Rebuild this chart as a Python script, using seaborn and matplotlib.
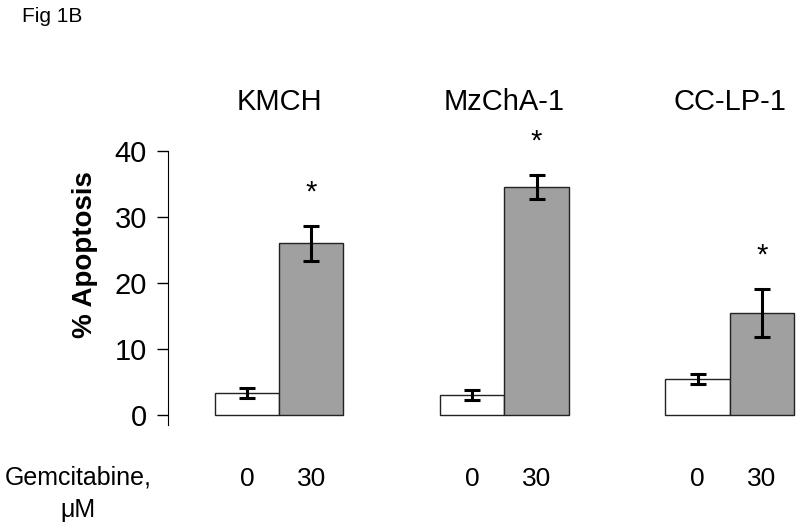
import pandas as pd
import seaborn as sns
import matplotlib.pyplot as plt

# =============================
# Data
# =============================
cell_lines = ["KMCH", "MzChA-1", "CC-LP-1"]
doses = ["0", "30"]
apoptosis_0 = [3.4, 3.0, 5.45]
apoptosis_30 = [26.0, 34.5, 15.5]
sem_0 = [0.75, 0.75, 0.72]
sem_30 = [2.6, 1.8, 3.6]
significant = [True, True, True]

# bar centres along a numeric axis (groups 3.5 bar widths apart)
group_centres = [0.0, 3.5, 7.0]

rows = []
for i, line in enumerate(cell_lines):
    rows.append({"pos": group_centres[i] - 0.5, "dose": "0", "line": line,
                 "value": apoptosis_0[i], "err": sem_0[i]})
    rows.append({"pos": group_centres[i] + 0.5, "dose": "30", "line": line,
                 "value": apoptosis_30[i], "err": sem_30[i]})
df = pd.DataFrame(rows)

# =============================
# Plot
# =============================
sns.set_style("white")
plt.rcParams["font.family"] = ["Liberation Sans", "DejaVu Sans"]
plt.rcParams["text.color"] = "black"
plt.rcParams["xtick.color"] = "black"
plt.rcParams["ytick.color"] = "black"
plt.rcParams["axes.labelcolor"] = "black"

fig = plt.figure(figsize=(8, 5.24), dpi=100)
ax = fig.add_axes([167.7 / 800, 99 / 524, 1 - 167.7 / 800, 340 / 524])

sns.barplot(
    data=df, x="pos", y="value", hue="dose",
    palette={"0": "white", "30": "#a0a0a0"},
    native_scale=True, dodge=False, width=1.0,
    edgecolor="#222222", linewidth=1.0,
    errorbar=None, legend=False, ax=ax
)

ax.errorbar(df["pos"], df["value"], yerr=df["err"], fmt="none",
            ecolor="black", elinewidth=2.2, capsize=6, capthick=2.2)

for i, line in enumerate(cell_lines):
    top = apoptosis_30[i] + sem_30[i]
    if significant[i]:
        ax.text(group_centres[i] + 0.5, top + 3.0, "*", ha="center",
                va="bottom", fontsize=21)
    ax.text(group_centres[i], 47.5, line, ha="center", va="center",
            fontsize=21)

ax.set_xlim(-1.73, 8.09)
ax.set_ylim(-1.5, 50)
ax.set_yticks([0, 10, 20, 30, 40])
ax.set_yticklabels(["0", "10", "20", "30", "40"], fontsize=21)
ax.set_xticks(df["pos"])
ax.set_xticklabels(df["dose"], fontsize=19)
ax.tick_params(axis="x", length=0, pad=30)
ax.tick_params(axis="y", length=8, width=1, pad=7, left=True)

for side in ["top", "right", "bottom"]:
    ax.spines[side].set_visible(False)
ax.spines["left"].set_bounds(-1.5, 40)
ax.spines["left"].set_color("black")
ax.set_xlabel("")
ax.set_ylabel("% Apoptosis", fontsize=20, fontweight="bold", labelpad=12)

fig.text(22 / 800, 1 - 16 / 524, "Fig 1B", ha="left", va="center", fontsize=15)
fig.text(78 / 800, 1 - 494 / 524, "Gemcitabine,\n\u03bcM", ha="center",
         va="center", fontsize=18, linespacing=1.45)

plt.savefig("out.png", dpi=100)
